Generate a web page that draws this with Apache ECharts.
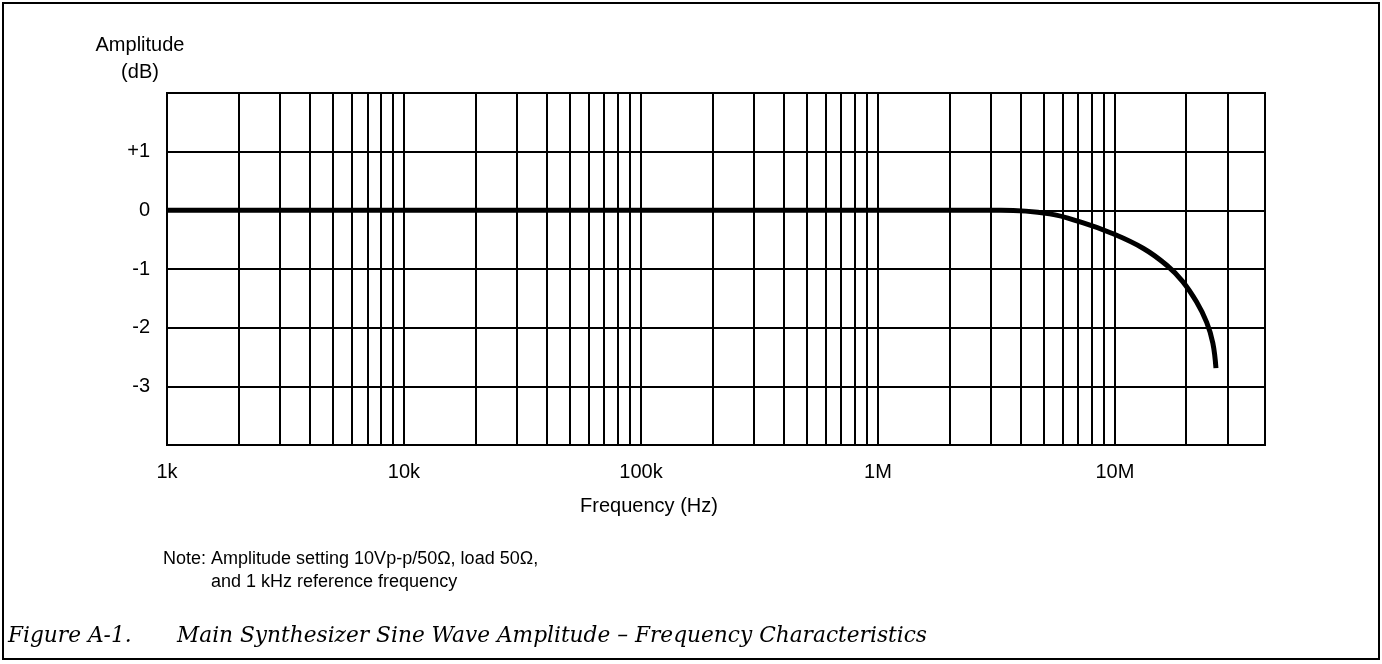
<!DOCTYPE html>
<html>
<head>
<meta charset="utf-8">
<title>Main Synthesizer Sine Wave Amplitude - Frequency Characteristics</title>
<script src="https://cdn.jsdelivr.net/npm/echarts@6/dist/echarts.min.js"></script>
<style>
  html, body { margin: 0; padding: 0; background: #fff; }
  #chart { width: 1382px; height: 664px; }
</style>
</head>
<body>
<div id="chart"></div>
<script>
// response curve (Hz, dB)
var freqHz = [1e3, 1e4, 1e5, 1e6, 2e6, 3.3e6, 5.3e6, 7.3e6, 9.7e6, 13.2e6, 16.6e6, 19.3e6, 22.1e6, 24.4e6, 25.9e6, 26.7e6];
var ampDb = [0, 0, 0, 0, 0, 0, -0.06, -0.21, -0.39, -0.65, -0.94, -1.21, -1.56, -1.91, -2.26, -2.69];

// log paper lines between the decades
var minorGridHz = [
  2e3, 3e3, 4e3, 5e3, 6e3, 7e3, 8e3, 9e3,
  2e4, 3e4, 4e4, 5e4, 6e4, 7e4, 8e4, 9e4,
  2e5, 3e5, 4e5, 5e5, 6e5, 7e5, 8e5, 9e5,
  2e6, 3e6, 4e6, 5e6, 6e6, 7e6, 8e6, 9e6,
  2e7, 3e7
];

var xTickValues = [1e3, 1e4, 1e5, 1e6, 1e7];
var xTickLabels = ['1k', '10k', '100k', '1M', '10M'];
var yTickValues = [1, 0, -1, -2, -3];
var yTickLabels = ['+1', '0', '-1', '-2', '-3'];

var sans = 'Liberation Sans, Arial, sans-serif';
var serif = 'DejaVu Serif, serif';
var black = '#000';

var chart = echarts.init(document.getElementById('chart'));

function xLabel(v) {
  for (var i = 0; i < xTickValues.length; i++) {
    if (Math.abs(Math.log10(v) - Math.log10(xTickValues[i])) < 1e-6) return xTickLabels[i];
  }
  return '';
}
function yLabel(v) {
  var i = yTickValues.indexOf(v);
  return i < 0 ? '' : yTickLabels[i];
}

var option = {
  animation: false,
  backgroundColor: '#fff',
  grid: {
    left: 167, top: 93, right: 117, bottom: 219,
    show: true, borderColor: black, borderWidth: 2
  },
  xAxis: {
    type: 'log',
    logBase: 10,
    min: 1e3,
    max: 4.3e7,
    axisLine: { show: false },
    axisTick: { show: false },
    splitLine: { show: true, lineStyle: { color: black, width: 2 } },
    axisLabel: { formatter: xLabel, margin: 17, fontSize: 20, color: black, fontFamily: sans, showMaxLabel: false }
  },
  yAxis: {
    type: 'value',
    min: -4,
    max: 2,
    interval: 1,
    axisLine: { show: false },
    axisTick: { show: false },
    splitLine: { show: true, lineStyle: { color: black, width: 2 } },
    axisLabel: { formatter: yLabel, margin: 17, fontSize: 20, color: black, fontFamily: sans }
  },
  series: [
    {
      // minor grid
      type: 'line',
      data: [],
      silent: true,
      z: 1,
      markLine: {
        silent: true,
        symbol: 'none',
        label: { show: false },
        lineStyle: { color: black, width: 2, type: 'solid' },
        emphasis: { disabled: true },
        data: minorGridHz.map(function (f) { return { xAxis: f }; })
      }
    },
    {
      name: 'Amplitude',
      type: 'line',
      z: 5,
      smooth: 0.4,
      showSymbol: false,
      lineStyle: { color: black, width: 5 },
      emphasis: { disabled: true },
      data: freqHz.map(function (f, i) { return [f, ampDb[i]]; })
    }
  ],
  graphic: [
    { type: 'rect', silent: true, shape: { x: 3, y: 3, width: 1376, height: 656 },
      style: { fill: 'none', stroke: black, lineWidth: 2 } },
    { type: 'text', x: 140, y: 45, style: { text: 'Amplitude', font: '20px ' + sans, fill: black, align: 'center', verticalAlign: 'middle' } },
    { type: 'text', x: 140, y: 72, style: { text: '(dB)', font: '20px ' + sans, fill: black, align: 'center', verticalAlign: 'middle' } },
    { type: 'text', x: 649, y: 506, style: { text: 'Frequency (Hz)', font: '20px ' + sans, fill: black, align: 'center', verticalAlign: 'middle' } },
    { type: 'text', x: 163, y: 559, style: { text: 'Note: Amplitude setting 10Vp-p/50\u03A9, load 50\u03A9,', font: '18px ' + sans, fill: black, verticalAlign: 'middle' } },
    { type: 'text', x: 211, y: 582, style: { text: 'and 1 kHz reference frequency', font: '18px ' + sans, fill: black, verticalAlign: 'middle' } },
    { type: 'text', x: 8, y: 636, style: { text: 'Figure A-1.', font: 'italic 21.7px ' + serif, fill: black, verticalAlign: 'middle' } },
    { type: 'text', x: 177, y: 636, style: { text: 'Main Synthesizer Sine Wave Amplitude \u2013 Frequency Characteristics', font: 'italic 21.7px ' + serif, fill: black, verticalAlign: 'middle' } }
  ]
};

chart.setOption(option);
window.addEventListener('resize', chart.resize);
</script>
</body>
</html>
